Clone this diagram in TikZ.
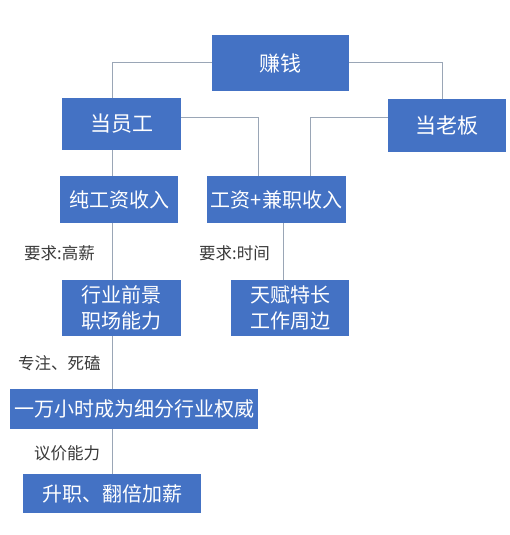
\documentclass[tikz,border=0pt]{standalone}
\usepackage{fontspec}
\setmainfont{Noto Sans CJK SC}
\definecolor{boxblue}{HTML}{4472C4}
\definecolor{linegray}{HTML}{9AA6B6}
\definecolor{labelgray}{HTML}{3A3A3A}
\tikzset{
  bluebox/.style={fill=boxblue, text=white, inner sep=0pt, align=center, font=\fontsize{20}{26}\selectfont},
  lbl/.style={text=labelgray, inner sep=0pt, font=\fontsize{16.5}{20}\selectfont},
  conn/.style={draw=linegray, line width=1pt}
}
\begin{document}
\begin{tikzpicture}[x=1pt,y=-1pt]
\useasboundingbox (0,0) rectangle (510,535);
\fill[white] (0,0) rectangle (510,535);
% boxes
\node[bluebox, minimum width=137pt, minimum height=56pt, font=\fontsize{21}{26}\selectfont] (earn) at (280.5,63) {赚钱};
\node[bluebox, minimum width=119pt, minimum height=52pt, font=\fontsize{21}{26}\selectfont] (emp) at (121.5,124) {当员工};
\node[bluebox, minimum width=118pt, minimum height=53pt, font=\fontsize{21}{26}\selectfont] (boss) at (447,125.5) {当老板};
\node[bluebox, minimum width=118pt, minimum height=47pt] (pure) at (119,199.5) {纯工资收入};
\node[bluebox, minimum width=139pt, minimum height=47pt] (side) at (276.5,199.5) {工资+兼职收入};
\node[bluebox, minimum width=119pt, minimum height=56pt] (prosp) at (121.5,308) {行业前景\\职场能力};
\node[bluebox, minimum width=118pt, minimum height=56pt] (talent) at (290,308) {天赋特长\\工作周边};
\node[bluebox, minimum width=248pt, minimum height=40pt] (expert) at (134,409) {一万小时成为细分行业权威};
\node[bluebox, minimum width=178pt, minimum height=39pt] (promo) at (112,493.5) {升职、翻倍加薪};
% helper coordinates
\coordinate (spine) at (112,0);
\coordinate (bx) at (442,0);
\coordinate (r1) at (0,117);
\coordinate (sx1) at (258,0);
\coordinate (sx2) at (310,0);
\coordinate (sx3) at (283,0);
% connectors
\draw[conn] (earn.west) -| (spine |- emp.north);
\draw[conn] (earn.east) -| (bx |- boss.north);
\draw[conn] (emp.east |- r1) -| (sx1 |- side.north);
\draw[conn] (boss.west |- r1) -| (sx2 |- side.north);
\draw[conn] (spine |- emp.south) -- (spine |- pure.north);
\draw[conn] (spine |- pure.south) -- (spine |- prosp.north);
\draw[conn] (spine |- prosp.south) -- (spine |- expert.north);
\draw[conn] (spine |- expert.south) -- (spine |- promo.north);
\draw[conn] (sx3 |- side.south) -- (sx3 |- talent.north);
% labels
\node[lbl, anchor=west] (l1) at (24,253) {要求:高薪};
\node[lbl, anchor=west] (l2) at (199,253) {要求:时间};
\node[lbl, anchor=west] (l3) at (18,363) {专注、死磕};
\node[lbl, anchor=west] (l4) at (34,453) {议价能力};
\end{tikzpicture}
\end{document}
